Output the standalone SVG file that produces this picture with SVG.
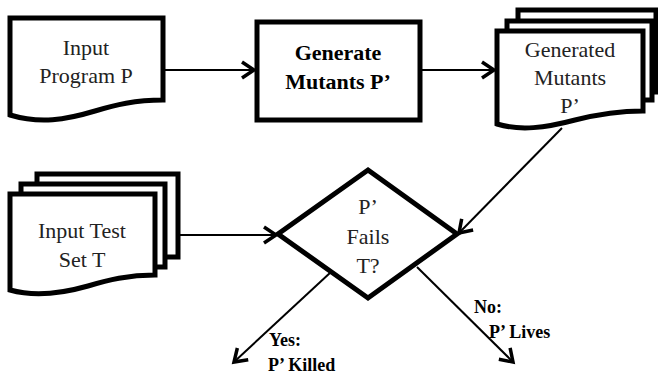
<svg xmlns="http://www.w3.org/2000/svg" width="658" height="376" viewBox="0 0 658 376">
<style>
.shape{fill:#fff;stroke:#000;stroke-width:5;stroke-linejoin:miter}
.t{font-size:22px;fill:#222;text-anchor:middle}
.b{font-weight:bold;fill:#000}
.c{fill:none;stroke:#000;stroke-width:2}
</style>
<defs>
<marker id="ah" markerUnits="userSpaceOnUse" markerWidth="30" markerHeight="30" viewBox="-15 -15 30 30" refX="0" refY="0" orient="auto">
<path d="M-12,-8 L0,0 L-12,8" fill="none" stroke="#000" stroke-width="3.5"/>
</marker>
</defs>
<rect width="658" height="376" fill="#fff"/>
<g font-family="Liberation Serif, Times New Roman, serif">
<g id="input-program">
<path class="shape" d="M10,18 H163 V100 C135,100 115,105 95,111 C65,120 40,124 10,115 Z"/>
<text class="t" x="86" y="55">Input</text>
<text class="t" x="86" y="83">Program P</text>
</g>
<g id="generate-mutants">
<rect class="shape" x="257" y="22" width="163" height="98"/>
<text class="b" x="338" y="60" font-size="22" text-anchor="middle">Generate</text>
<text class="b" x="338" y="89" font-size="22" text-anchor="middle">Mutants P’</text>
</g>
<g id="generated-mutants">
<path class="shape" d="M518,10 H656 V92 H518 Z"/>
<path class="shape" d="M507,21 H652 V100 H507 Z"/>
<path class="shape" d="M497,31 H643 V111 C615,111 595,115 575,120 C545,128 520,131 497,124 Z"/>
<text class="t" x="570" y="57">Generated</text>
<text class="t" x="570" y="85">Mutants</text>
<text class="t" x="570" y="113">P’</text>
</g>
<g id="input-test-set">
<path class="shape" d="M37,174 H178 V257 H37 Z"/>
<path class="shape" d="M21,184 H165 V267 H21 Z"/>
<path class="shape" d="M10,194 H155 V275 C128,275 108,280 88,286 C60,294 35,297 10,290 Z"/>
<text class="t" x="82" y="238">Input Test</text>
<text class="t" x="82" y="267">Set T</text>
</g>
<g id="decision">
<path class="shape" d="M368,170 L457,234 L368,298 L278,234 Z"/>
<text class="t" x="368" y="214">P’</text>
<text class="t" x="368" y="244">Fails</text>
<text class="t" x="368" y="273">T?</text>
</g>
<g id="connectors">
<line class="c" x1="165" y1="70" x2="254" y2="70" marker-end="url(#ah)"/>
<line class="c" x1="422" y1="70" x2="494" y2="70" marker-end="url(#ah)"/>
<line class="c" x1="562" y1="128" x2="459" y2="233" marker-end="url(#ah)"/>
<line class="c" x1="180" y1="235" x2="276" y2="235" marker-end="url(#ah)"/>
<line class="c" x1="331" y1="272" x2="234" y2="362" marker-end="url(#ah)"/>
<line class="c" x1="417" y1="267" x2="513" y2="362" marker-end="url(#ah)"/>
</g>
<g id="labels">
<text class="b" x="269" y="346" font-size="18">Yes:</text>
<text class="b" x="268" y="371" font-size="18">P’ Killed</text>
<text class="b" x="474" y="313" font-size="18">No:</text>
<text class="b" x="489" y="338" font-size="18">P’ Lives</text>
</g>
</g>
</svg>
